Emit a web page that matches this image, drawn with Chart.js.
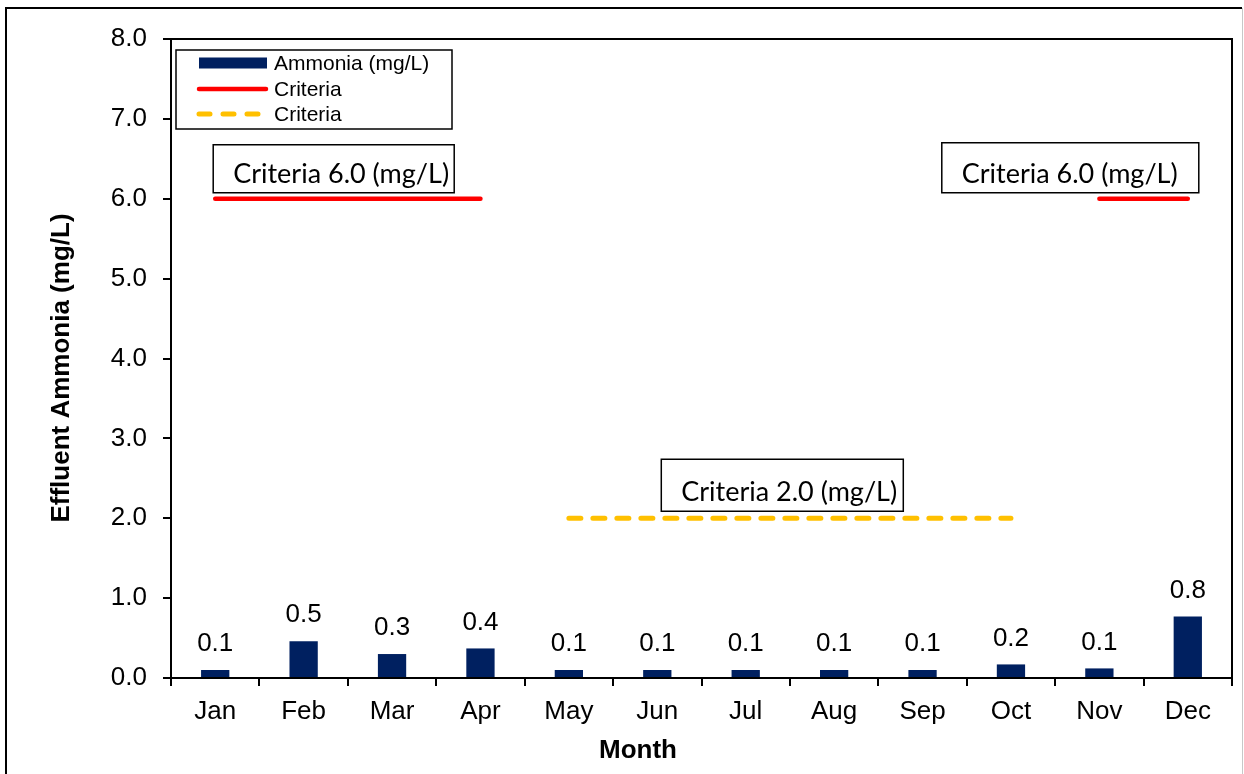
<!DOCTYPE html>
<html><head><meta charset="utf-8">
<script src="https://cdn.jsdelivr.net/npm/chart.js@4/dist/chart.umd.min.js"></script>
<style>html,body{margin:0;padding:0;background:#fff;overflow:hidden}canvas{display:block}</style>
</head><body>
<canvas id="c" width="1244" height="774"></canvas>
<script>
// ---- data ----
const months = ['Jan','Feb','Mar','Apr','May','Jun','Jul','Aug','Sep','Oct','Nov','Dec'];
const ammonia = [0.10, 0.46, 0.30, 0.37, 0.10, 0.10, 0.10, 0.10, 0.10, 0.17, 0.12, 0.77];
const criteriaRed = [6, 6, 6, 6, null, null, null, null, null, null, 6, 6];
const criteriaYellow = [null, null, null, null, 2, 2, 2, 2, 2, 2, null, null];
const seriesLabels = ['Ammonia (mg/L)', 'Criteria', 'Criteria'];
const annotationTexts = ['Criteria 6.0 (mg/L)', 'Criteria 6.0 (mg/L)', 'Criteria 2.0 (mg/L)'];
const annotationValues = [6, 6, 2];
const annotationMonths = ['Jan', 'Dec', 'Jun'];
const xTitle = 'Month';
const yTitle = 'Effluent Ammonia (mg/L)';

const FONT = 'Arial, "Liberation Sans", sans-serif';
const BOXFONT = 'Lato, "Open Sans", sans-serif';

const framePlugin = {
  id: 'frame',
  beforeDraw(chart) {
    const ctx = chart.ctx;
    ctx.save();
    ctx.fillStyle = '#fff';
    ctx.fillRect(0, 0, chart.width, chart.height);
    ctx.strokeStyle = '#000';
    ctx.lineWidth = 2;
    ctx.beginPath();
    ctx.moveTo(6, 774); ctx.lineTo(6, 8); ctx.lineTo(1242, 8);
    ctx.stroke();
    ctx.strokeStyle = '#c8c8c8';
    ctx.lineWidth = 1;
    ctx.beginPath();
    ctx.moveTo(1242.5, 8); ctx.lineTo(1242.5, 774);
    ctx.stroke();
    ctx.restore();
  },
  afterDraw(chart) {
    const ctx = chart.ctx;
    const a = chart.chartArea;
    ctx.save();
    ctx.strokeStyle = '#000';
    ctx.lineWidth = 2;
    ctx.strokeRect(a.left, a.top, a.right - a.left, a.bottom - a.top);

    // axis titles
    ctx.fillStyle = '#000';
    ctx.font = 'bold 26px ' + FONT;
    ctx.textAlign = 'center';
    ctx.textBaseline = 'middle';
    ctx.fillText(xTitle, 638, 751);
    ctx.save();
    ctx.translate(62, 368);
    ctx.rotate(-Math.PI / 2);
    ctx.fillText(yTitle, 0, 0);
    ctx.restore();

    // data labels
    ctx.font = '26px ' + FONT;
    chart.getDatasetMeta(0).data.forEach((bar, i) => {
      ctx.fillText(ammonia[i].toFixed(1), bar.x, bar.y - 26);
    });

    // annotation boxes
    const xs = chart.scales.x, ys = chart.scales.y;
    const boxes = [
      {left: xs.getPixelForValue(months.indexOf(annotationMonths[0])) - 2, w: 241, h: 48, gap: 6},
      {right: xs.getPixelForValue(months.indexOf(annotationMonths[1])) + 11, w: 257, h: 50, gap: 6},
      {left: xs.getPixelForValue(months.indexOf(annotationMonths[2])) + 4, w: 242, h: 52, gap: 7}
    ];
    ctx.font = '27px ' + BOXFONT;
    ctx.textAlign = 'left';
    ctx.textBaseline = 'alphabetic';
    boxes.forEach((b, i) => {
      const bottom = ys.getPixelForValue(annotationValues[i]) - b.gap;
      const left = b.left !== undefined ? b.left : b.right - b.w;
      const top = bottom - b.h;
      ctx.fillStyle = '#fff';
      ctx.fillRect(left, top, b.w, b.h);
      ctx.strokeStyle = '#000';
      ctx.lineWidth = 1.5;
      ctx.strokeRect(left, top, b.w, b.h);
      ctx.fillStyle = '#000';
      ctx.fillText(annotationTexts[i], left + 20, bottom - 10);
    });

    // legend
    const lx = 176, ly = 50, lw = 276, lh = 79;
    ctx.fillStyle = '#fff';
    ctx.fillRect(lx, ly, lw, lh);
    ctx.strokeStyle = '#000';
    ctx.lineWidth = 1.5;
    ctx.strokeRect(lx, ly, lw, lh);
    const ds = chart.data.datasets;
    const rows = [63, 89, 114];
    ctx.font = '21px ' + FONT;
    ctx.textBaseline = 'middle';
    ctx.textAlign = 'left';
    ctx.fillStyle = ds[0].backgroundColor;
    ctx.fillRect(199, rows[0] - 5.5, 68, 11);
    ctx.strokeStyle = ds[1].borderColor;
    ctx.lineWidth = ds[1].borderWidth;
    ctx.lineCap = 'round';
    ctx.setLineDash([]);
    ctx.beginPath(); ctx.moveTo(199, rows[1]); ctx.lineTo(266, rows[1]); ctx.stroke();
    ctx.strokeStyle = ds[2].borderColor;
    ctx.lineWidth = ds[2].borderWidth;
    ctx.setLineDash([11, 13]);
    ctx.beginPath(); ctx.moveTo(199, rows[2]); ctx.lineTo(262, rows[2]); ctx.stroke();
    ctx.setLineDash([]);
    ctx.fillStyle = '#000';
    ds.forEach((d, i) => ctx.fillText(d.label, 274, rows[i] + 1));
    ctx.restore();
  }
};

new Chart(document.getElementById('c'), {
  type: 'bar',
  data: {
    labels: months,
    datasets: [
      {type: 'bar', label: seriesLabels[0], data: ammonia, backgroundColor: '#002060',
       barPercentage: 0.32, categoryPercentage: 1.0, order: 2},
      {type: 'line', label: seriesLabels[1], data: criteriaRed, borderColor: '#FF0000', borderWidth: 4.5,
       borderCapStyle: 'round', pointRadius: 0, spanGaps: false, fill: false, order: 1},
      {type: 'line', label: seriesLabels[2], data: criteriaYellow, borderColor: '#FFC000', borderWidth: 5,
       borderDash: [12, 12], borderCapStyle: 'round', pointRadius: 0, spanGaps: false, fill: false, order: 1}
    ]
  },
  options: {
    responsive: false,
    animation: false,
    layout: {padding: {left: 0, top: 39, right: 12, bottom: 0}},
    plugins: {legend: {display: false}, tooltip: {enabled: false}},
    scales: {
      x: {
        offset: true,
        grid: {display: true, drawOnChartArea: false, drawTicks: true, tickLength: 8, color: '#000', lineWidth: 2, offset: true},
        border: {display: true, color: '#000', width: 2},
        ticks: {color: '#000', font: {family: FONT, size: 26}, padding: 10, maxRotation: 0, autoSkip: false},
        title: {display: false},
        afterFit(s) { s.height = 96; }
      },
      y: {
        min: 0, max: 8,
        ticks: {stepSize: 1, color: '#000', font: {family: FONT, size: 26}, padding: 16, callback: v => Number(v).toFixed(1)},
        grid: {display: true, drawOnChartArea: false, drawTicks: true, tickLength: 8, color: '#000', lineWidth: 2},
        border: {display: true, color: '#000', width: 2},
        title: {display: false},
        afterFit(s) { s.width = 171; }
      }
    }
  },
  plugins: [framePlugin]
});
</script>
</body></html>
